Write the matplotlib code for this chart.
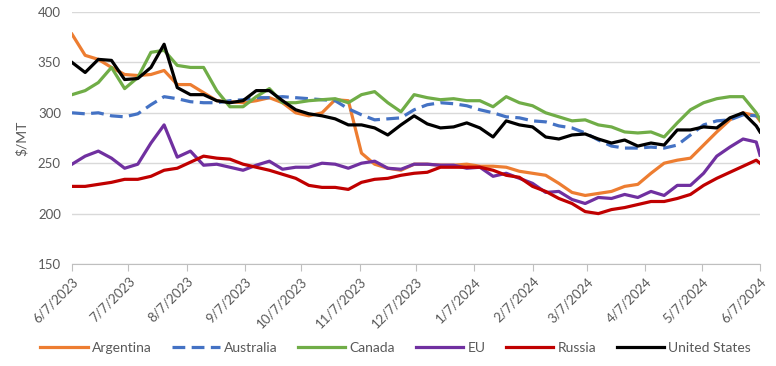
import matplotlib
matplotlib.use("Agg")
import matplotlib.pyplot as plt
import pandas as pd

dates = pd.date_range("2023-06-07", periods=53, freq="7D").append(pd.DatetimeIndex(["2024-06-07"]))

argentina = [378, 357, 353, 345, 338, 337, 338, 342, 328, 328, 320, 312, 311, 310, 312, 315, 310, 300,
             297, 300, 313, 312, 260, 249, 245, 243, 249, 249, 248, 248, 249, 247, 247, 246, 242, 240,
             238, 230, 221, 218, 220, 222, 227, 229, 240, 250, 253, 255, 268, 281, 293, 300, 297, 292]
australia = [300, 299, 300, 297, 296, 299, 308, 316, 314, 311, 310, 310, 312, 313, 315, 315, 316, 315,
             314, 313, 312, 304, 298, 293, 294, 295, 303, 308, 310, 309, 307, 303, 300, 296, 295, 292,
             291, 287, 285, 280, 273, 267, 265, 265, 266, 265, 268, 278, 288, 292, 293, 298, 297, 295]
canada = [318, 322, 330, 345, 324, 335, 360, 362, 347, 345, 345, 322, 306, 306, 316, 324, 310, 310,
          312, 313, 314, 310, 318, 321, 310, 301, 318, 315, 313, 314, 312, 312, 306, 316, 310, 307,
          300, 296, 292, 293, 288, 286, 281, 280, 281, 276, 290, 303, 310, 314, 316, 316, 300, 293]
eu = [249, 257, 262, 255, 245, 249, 270, 288, 256, 262, 248, 249, 246, 243, 248, 252, 244, 246,
      246, 250, 249, 245, 250, 252, 245, 244, 249, 249, 248, 248, 245, 246, 237, 240, 235, 230,
      221, 222, 214, 210, 216, 215, 219, 216, 222, 218, 228, 228, 240, 257, 266, 274, 271, 258]
russia = [227, 227, 229, 231, 234, 234, 237, 243, 245, 251, 257, 255, 254, 249, 246, 243, 239, 235,
          228, 226, 226, 224, 231, 234, 235, 238, 240, 241, 246, 246, 246, 246, 243, 238, 236, 227,
          222, 215, 210, 202, 200, 204, 206, 209, 212, 212, 215, 219, 228, 235, 241, 247, 253, 250]
united_states = [350, 340, 353, 352, 333, 334, 345, 368, 325, 318, 318, 312, 310, 312, 322, 322, 312, 303,
                 299, 297, 294, 288, 288, 285, 278, 288, 297, 289, 285, 286, 290, 285, 276, 292, 288, 286,
                 276, 274, 278, 279, 274, 270, 273, 267, 270, 268, 283, 283, 286, 285, 295, 300, 287, 281]

series_names = ["Argentina", "Australia", "Canada", "EU", "Russia", "United States"]
series_values = [argentina, australia, canada, eu, russia, united_states]
colors = ["#ED7D31", "#4472C4", "#70AD47", "#7030A0", "#C00000", "#000000"]

tick_dates = pd.date_range("2023-06-01", "2024-06-07", freq="MS") + pd.Timedelta(days=6)
tick_labels = [f"{d.month}/{d.day}/{d.year}" for d in tick_dates]

plt.rcParams["font.family"] = ["Lato", "DejaVu Sans"]

fig = plt.figure(figsize=(7.76, 3.66), dpi=100)
ax = fig.add_axes([72 / 776, 1 - 264 / 366, (760 - 72) / 776, (264 - 12) / 366])

for name, vals, c in zip(series_names, series_values, colors):
    kw = dict(color=c, lw=2.3, label=name, solid_joinstyle="round")
    if name == "Australia":
        kw.update(linestyle=(0, (4, 2)), dash_capstyle="butt")
    ax.plot(dates, vals, **kw)

ax.set_ylim(150, 400)
ax.set_yticks(range(150, 401, 50))
ax.set_xlim(pd.Timestamp("2023-06-07"), pd.Timestamp("2024-06-07"))
ax.set_xticks(tick_dates)
ax.set_xticklabels(tick_labels, rotation=45, ha="right", rotation_mode="anchor")

ax.grid(axis="y", color="#D9D9D9", lw=1)
ax.set_axisbelow(True)
for s in ["left", "right", "top"]:
    ax.spines[s].set_visible(False)
ax.spines["bottom"].set_color("#BFBFBF")
ax.tick_params(axis="x", colors="#595959", labelsize=9.5, length=5, color="#BFBFBF", pad=3)
ax.tick_params(axis="y", colors="#595959", labelsize=9.5, length=0, pad=8)
ax.set_ylabel("$/MT", color="#595959", fontsize=10)
ax.yaxis.set_label_coords(-0.064, 0.5)

fig.legend(loc="lower center", bbox_to_anchor=(0.51, 0.0), ncol=6, frameon=False,
           fontsize=10, handlelength=3.4, columnspacing=1.5, handletextpad=0.3,
           labelcolor="#595959")

fig.savefig("out.png", dpi=100)
